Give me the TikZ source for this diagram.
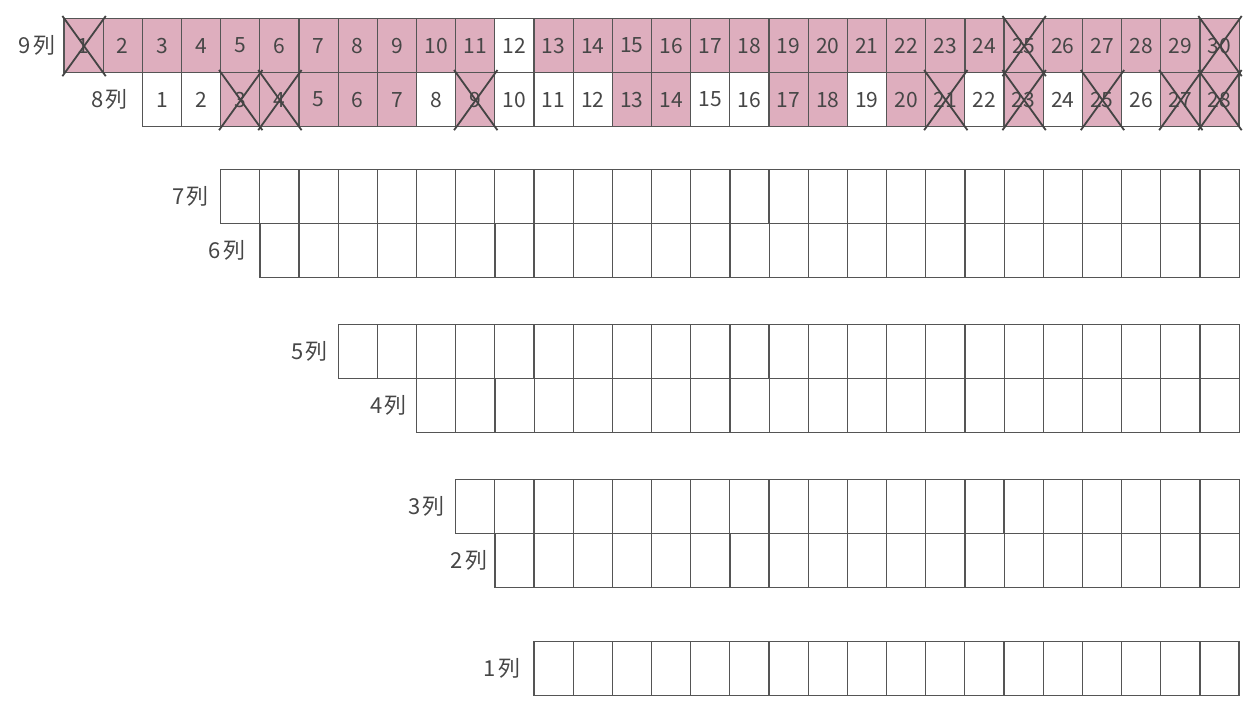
\documentclass[tikz,border=0pt]{standalone}
\usepackage{fontspec}
\setmainfont{Noto Sans CJK JP}
\definecolor{pinkc}{RGB}{222,174,190}
\definecolor{gridc}{RGB}{85,85,85}
\definecolor{textc}{RGB}{70,70,70}
\tikzset{
  cell/.style={draw=gridc, line width=1.2pt, minimum width=39.17pt, minimum height=54pt,
    inner sep=0pt, anchor=north west, font=\fontsize{21}{21}\selectfont, text=textc},
  rowlabel/.style={anchor=east, inner sep=0pt, font=\fontsize{22}{22}\selectfont, text=textc},
  crossline/.style={draw=gridc!80!black, line width=1.8pt}
}
\begin{document}
\begin{tikzpicture}[x=1pt,y=-1pt]
\useasboundingbox (0,0) rectangle (1248,708);
% row 9
\foreach \i in {1,...,30}{
  \pgfmathsetmacro\xx{63.4+(\i-1)*39.17}
  \ifnum\i=12 \def\f{white}\else\def\f{pinkc}\fi
  \node[cell,fill=\f] (c9-\i) at (\xx,18) {\i};
}
% row 8
\foreach \i/\f in {1/white,2/white,3/pinkc,4/pinkc,5/pinkc,6/pinkc,7/pinkc,8/white,9/pinkc,10/white,11/white,12/white,13/pinkc,14/pinkc,15/white,16/white,17/pinkc,18/pinkc,19/white,20/pinkc,21/pinkc,22/white,23/pinkc,24/white,25/pinkc,26/white,27/pinkc,28/pinkc}{
  \pgfmathsetmacro\xx{141.7+(\i-1)*39.17}
  \node[cell,fill=\f] (c8-\i) at (\xx,72) {\i};
}
% empty rows
\foreach \r/\x/\y/\n in {7/220.1/169/26, 6/259.3/223/25, 5/337.6/324/23, 4/416/378/21, 3/455.1/479/20, 2/494.3/533/19, 1/533.4/641/18}{
  \foreach \i in {1,...,\n}{
    \pgfmathsetmacro\xx{\x+(\i-1)*39.17}
    \node[cell] (c\r-\i) at (\xx,\y) {};
  }
}
% row labels
\foreach \r/\g in {9/8, 8/14, 7/11, 6/14, 5/10, 4/9, 3/10, 2/7, 1/13}{
  \node[rowlabel] (l\r) at ([xshift=-\g pt]c\r-1.west) {\r\kern2pt列};
}
% crosses
\foreach \c in {9-1,9-25,9-30,8-3,8-4,8-9,8-21,8-23,8-25,8-27,8-28}{
  \draw[crossline] ([shift={(-1,-2)}]c\c.north west) -- ([shift={(2,3)}]c\c.south east);
  \draw[crossline] ([shift={(2,-2)}]c\c.north east) -- ([shift={(-1,3)}]c\c.south west);
}
\end{tikzpicture}
\end{document}
